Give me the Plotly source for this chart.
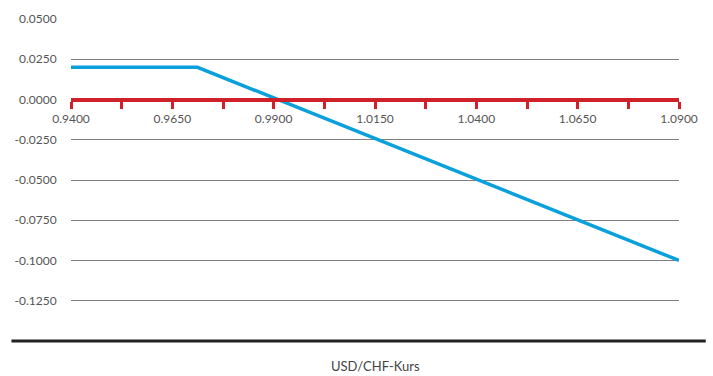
import plotly.graph_objects as go

# Data
fx_rate = [0.9400, 0.9712, 1.0900]
payoff = [0.0200, 0.0200, -0.1000]
y_ticks = [0.05, 0.025, 0.0, -0.025, -0.05, -0.075, -0.1, -0.125]
x_ticks = [0.94, 0.965, 0.99, 1.015, 1.04, 1.065, 1.09]
x_title = "USD/CHF-Kurs"

RED = "#d0202a"
BLUE = "#0aa0dc"
FONT = "Lato, 'Open Sans', sans-serif"

fig = go.Figure()
fig.add_trace(go.Scatter(x=fx_rate, y=payoff, mode="lines",
                         line=dict(color=BLUE, width=3.5), showlegend=False,
                         cliponaxis=False))

fig.update_layout(
    width=713, height=376,
    margin=dict(l=71, r=34, t=19, b=34.5),
    paper_bgcolor="white", plot_bgcolor="white",
    font=dict(family=FONT, size=12, color="#555"),
    xaxis=dict(range=[0.94, 1.09], tickvals=x_ticks, ticktext=[f"{v:.4f}" for v in x_ticks],
               showgrid=False, zeroline=False,
               anchor="free", position=0.75,
               showline=True, linecolor=RED, linewidth=4,
               ticks="outside", ticklen=7, tickwidth=3, tickcolor=RED,
               minor=dict(tickvals=[0.9525, 0.9775, 1.0025, 1.0275, 1.0525, 1.0775],
                          ticks="outside", ticklen=7, tickwidth=3, tickcolor=RED, showgrid=False),
               tickfont=dict(size=12, color="#555")),
    yaxis=dict(range=[-0.15, 0.05], tickvals=y_ticks, ticktext=[f"{v:.4f}" for v in y_ticks],
               showgrid=True, gridcolor="#808080", gridwidth=1, zeroline=False,
               showline=False, ticks="outside", ticklen=11, tickcolor="rgba(0,0,0,0)",
               tickfont=dict(size=12, color="#555")),
)

fig.add_shape(type="line", xref="paper", yref="paper", x0=-0.098, x1=1.044, y0=0, y1=0,
              line=dict(color="#222", width=3))
fig.add_annotation(text=x_title, xref="paper", yref="paper", x=0.5, y=-0.078,
                   showarrow=False, yanchor="middle", font=dict(size=13, color="#444"))

fig.write_html("out.html")
